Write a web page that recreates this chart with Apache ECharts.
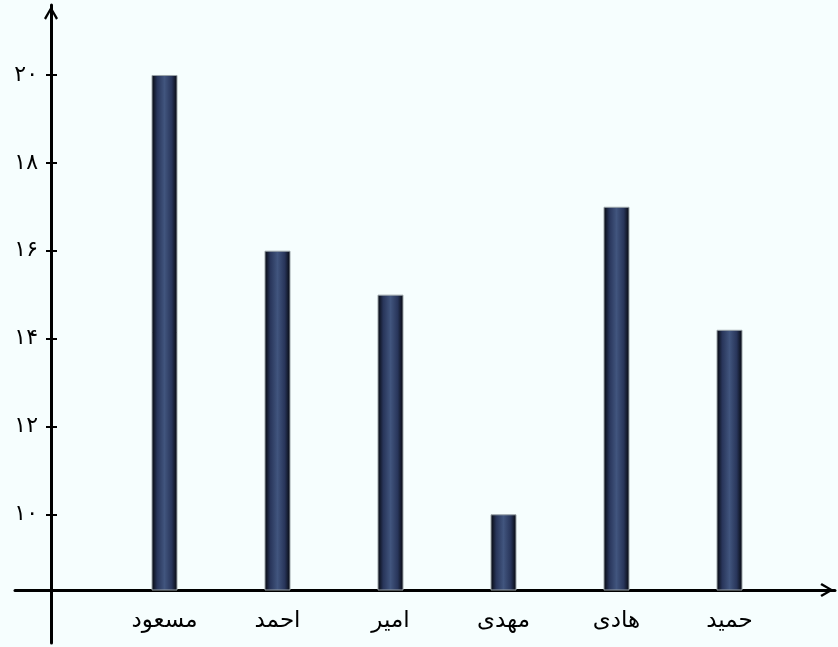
<!DOCTYPE html>
<html><head><meta charset="utf-8">
<script src="https://cdn.jsdelivr.net/npm/echarts@6/dist/echarts.min.js"></script>
<style>html,body{margin:0;padding:0;background:#f6fefe;}#c{width:838px;height:647px;}</style>
</head><body><div id="c"></div>
<script>
const categories = ['مسعود','احمد','امیر','مهدی','هادی','حمید'];
const values = [20, 16, 15, 10, 17, 14.2];
const yTicks = [10, 12, 14, 16, 18, 20];
const yTickLabels = ['۱۰','۱۲','۱۴','۱۶','۱۸','۲۰'];

const chevron = 'path://M5,0 L10,8.5 L8.6,9.5 L5,3 L1.4,9.5 L0,8.5 Z';
const font = 'DejaVu Sans';
const chart = echarts.init(document.getElementById('c'), null, {renderer:'canvas'});
chart.setOption({
  backgroundColor: '#f6fefe',
  animation: false,
  grid: [
    {left: 15, right: 3, top: 5, bottom: 4},
    {left: 108, right: 52, top: 5, bottom: 57}
  ],
  xAxis: [
    {type: 'value', gridIndex: 0, min: -36, max: 784, position: 'bottom', offset: -53,
     axisLine: {show: true, onZero: false, lineStyle: {color: '#000', width: 3},
       symbol: ['none', chevron], symbolSize: [14, 16], symbolOffset: [0, -8]},
     axisTick: {show: false}, axisLabel: {show: false}, splitLine: {show: false}},
    {type: 'category', gridIndex: 1, data: categories,
     axisLine: {show: false}, axisTick: {show: false},
     axisLabel: {color: '#000', fontFamily: font, fontSize: 23, margin: 20}}
  ],
  yAxis: [
    {type: 'value', gridIndex: 0, min: 7.071, max: 21.593, position: 'left', offset: -36,
     axisLine: {show: true, onZero: false, lineStyle: {color: '#000', width: 3},
       symbol: ['none', chevron], symbolSize: [14, 16], symbolOffset: [0, -8]},
     axisTick: {show: true, length: 5, lineStyle: {color: '#000', width: 2}, customValues: yTicks},
     axisLabel: {show: true, color: '#000', fontFamily: font, fontSize: 22, margin: 13,
       customValues: yTicks,
       formatter: v => yTickLabels[yTicks.indexOf(Math.round(v))] || ''},
     splitLine: {show: false}},
    {type: 'value', gridIndex: 1, min: 8.277, max: 21.593, position: 'left', offset: 57,
     axisLine: {show: false},
     axisTick: {show: true, inside: true, length: 6, lineStyle: {color: '#000', width: 2}, customValues: yTicks},
     axisLabel: {show: false}, splitLine: {show: false}}
  ],
  series: [{
    type: 'bar', xAxisIndex: 1, yAxisIndex: 1, data: values, barWidth: 26,
    itemStyle: {
      borderColor: '#9aa3a8', borderWidth: 1,
      color: new echarts.graphic.LinearGradient(0, 0, 1, 0, [
        {offset: 0, color: '#03050a'},
        {offset: 0.22, color: '#28355a'},
        {offset: 0.5, color: '#41557e'},
        {offset: 0.78, color: '#28355a'},
        {offset: 1, color: '#03050a'}
      ])
    }
  }]
});
</script></body></html>
